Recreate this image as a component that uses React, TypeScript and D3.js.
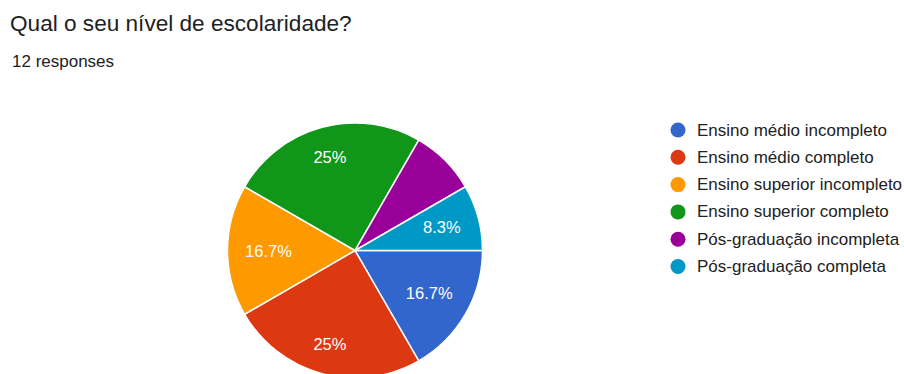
import React from "react";
import * as d3 from "d3";

const title = "Qual o seu nível de escolaridade?";
const subtitle = "12 responses";
const categories = [
  "Ensino médio incompleto",
  "Ensino médio completo",
  "Ensino superior incompleto",
  "Ensino superior completo",
  "Pós-graduação incompleta",
  "Pós-graduação completa",
];
const counts = [2, 3, 2, 3, 1, 1];
const colors = ["#3366cc", "#dc3912", "#ff9900", "#109618", "#990099", "#0099c6"];

const W = 904;
const H = 374;
const cx = 355;
const cy = 250.5;
const R = 127.5;
const FONT = "'Liberation Sans', Arial, sans-serif";
const LABEL_SIZE = 16.5;

function measure(text: string, size: number): number {
  if (typeof document === "undefined") return text.length * size * 0.55;
  const c = document.createElement("canvas").getContext("2d");
  if (!c) return text.length * size * 0.55;
  c.font = `${size}px 'Liberation Sans', Arial, sans-serif`;
  return c.measureText(text).width;
}

export default function App() {
  const total = d3.sum(counts);
  const pie = d3
    .pie<number>()
    .sort(null)
    .value((d) => d)
    .startAngle(Math.PI / 2)
    .endAngle(Math.PI / 2 + 2 * Math.PI);
  const arcs = pie(counts);
  const arc = d3.arc<d3.PieArcDatum<number>>().innerRadius(0).outerRadius(R);
  const legendY = d3.scaleLinear().domain([0, 1]).range([130, 157.3]);
  const fmt = (v: number) => {
    const p = (v / total) * 100;
    return (Math.round(p * 10) / 10).toString() + "%";
  };
  const L = R * 0.865;

  return (
    <svg
      width={W}
      height={H}
      style={{ position: "absolute", left: 0, top: 0, background: "#fff" }}
      fontFamily={FONT}
    >
      <rect width={W} height={H} fill="#fff" />
      <text x={10} y={31} fontSize={22.6} fill="#202124">
        {title}
      </text>
      <text x={12} y={67} fontSize={17} fill="#202124">
        {subtitle}
      </text>
      <g transform={`translate(${cx},${cy})`}>
        {arcs.map((a, i) => (
          <path key={i} d={arc(a) || ""} fill={colors[i]} stroke="#fff" strokeWidth={1.5} />
        ))}
        {arcs.map((a, i) => {
          if (i === 4) return null;
          const label = fmt(a.value);
          const mid = (a.startAngle + a.endAngle) / 2;
          const ux = Math.sin(mid);
          const uy = -Math.cos(mid);
          const hw = measure(label, LABEL_SIZE) / 2;
          const hh = 8.5;
          const b = Math.abs(ux) * hw + Math.abs(uy) * hh;
          const c = hw * hw + hh * hh - L * L;
          const d = -b + Math.sqrt(b * b - c);
          const x = d * ux;
          const y = d * uy;
          return (
            <text
              key={"l" + i}
              x={x}
              y={y}
              textAnchor="middle"
              dominantBaseline="central"
              fontSize={LABEL_SIZE}
              fill="#fff"
            >
              {label}
            </text>
          );
        })}
      </g>
      <g>
        {categories.map((c, i) => (
          <g key={c}>
            <circle cx={678} cy={legendY(i)} r={7.5} fill={colors[i]} />
            <text x={697} y={legendY(i)} dominantBaseline="central" fontSize={17} fill="#222">
              {c}
            </text>
          </g>
        ))}
      </g>
    </svg>
  );
}
